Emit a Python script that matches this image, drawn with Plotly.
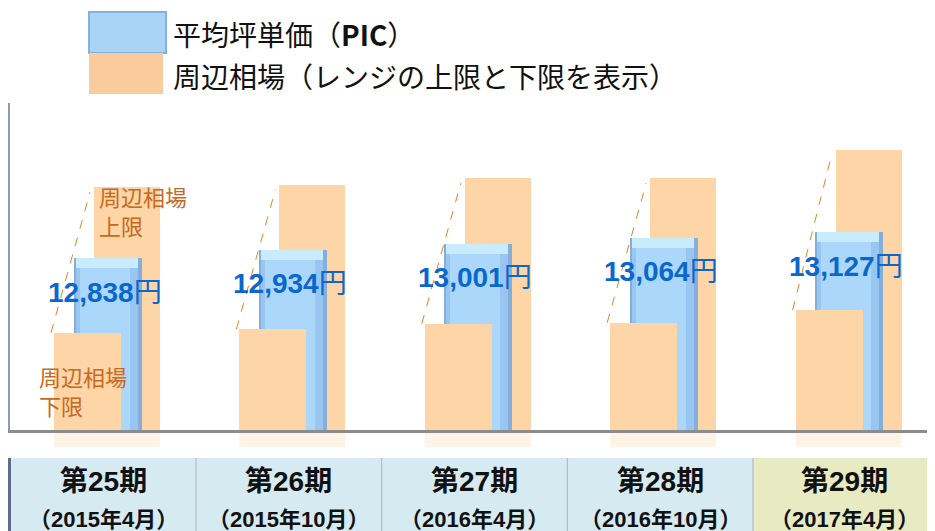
import plotly.graph_objects as go

# ---------------- data ----------------
periods = ["第25期", "第26期", "第27期", "第28期", "第29期"]
dates = ["（2015年4月）", "（2015年10月）", "（2016年4月）", "（2016年10月）", "（2017年4月）"]
pic_values = [12838, 12934, 13001, 13064, 13127]          # 平均坪単価 (PIC)
range_lower = [12020, 12060, 12120, 12130, 12270]          # 周辺相場 下限 (estimated)
range_upper = [13620, 13650, 13720, 13720, 14030]          # 周辺相場 上限 (estimated)
legend_labels = ["平均坪単価（<b>PIC</b>）", "周辺相場（レンジの上限と下限を表示）"]

# ---------------- layout constants (page pixels) ----------------
PAGE_OFF = 8                       # default body margin of the page
W, H = 935 - PAGE_OFF, 531 - PAGE_OFF
PL, PR, PT, PB = 10, 935, 103, 430  # plot area in page pixels
ML, MR, MT, MB = PL - PAGE_OFF, 0, PT - PAGE_OFF, 531 - PB
PLOT_W = PR - PL
PLOT_H = PB - PT
PX_X = 185.4            # pixels per category
X0_PX = 107.5           # page pixel of first category centre
XMIN = (PL - X0_PX) / PX_X
XMAX = (PR - X0_PX) / PX_X
YEN_PX = 11.0
YMIN = 10950
YMAX = YMIN + PLOT_H * YEN_PX

def dx(px):
    return px / PX_X

def dy(px):
    return px * YEN_PX

def paper_x(px):
    return (px - PL) / PLOT_W

def paper_y(py):
    return (PB - py) / PLOT_H

ORANGE = "#FDD5A6"
xs = list(range(len(periods)))

fig = go.Figure()

# upper range bar (behind)
fig.add_trace(go.Bar(x=xs, y=range_upper, width=dx(66), offset=dx(-13.5),
                     marker=dict(color=ORANGE, line=dict(width=0)), hoverinfo="skip"))
# PIC bar - outer (edge shade)
fig.add_trace(go.Bar(x=xs, y=pic_values, width=dx(68), offset=dx(-34),
                     marker=dict(color="#86AEDA", line=dict(width=0)), hoverinfo="skip"))
fig.add_trace(go.Bar(x=xs, y=pic_values, width=dx(62), offset=dx(-32),
                     marker=dict(color="#98C6F0", line=dict(width=0)), hoverinfo="skip"))
# PIC bar - inner light
fig.add_trace(go.Bar(x=xs, y=pic_values, width=dx(50), offset=dx(-28),
                     marker=dict(color="#AAD7FA", line=dict(width=0)), hoverinfo="skip"))
# PIC bar - top bevel
fig.add_trace(go.Bar(x=xs, y=[dy(10)] * len(xs), base=[v - dy(10) for v in pic_values],
                     width=dx(62), offset=dx(-32),
                     marker=dict(color="#C9ECFC", line=dict(width=0)), hoverinfo="skip"))
# lower range bar (front)
fig.add_trace(go.Bar(x=xs, y=range_lower, width=dx(67), offset=dx(-53.5),
                     marker=dict(color=ORANGE, line=dict(width=0)), hoverinfo="skip"))

shapes = []
annotations = []

# faint reflections below the baseline
for i in xs:
    for off, wid, col in [(-53.5, 67, ORANGE), (-34, 68, "#A9D4F7"), (-13.5, 66, ORANGE)]:
        pass
refl_spans = [(-53.5, 87, ORANGE)]
for i in xs:
    shapes.append(dict(type="rect", xref="x", yref="paper",
                       x0=i + dx(-53.5), x1=i + dx(52.5), y0=paper_y(447), y1=paper_y(433),
                       fillcolor="#FEF3E6", line=dict(width=0), layer="below"))

# dashed connectors lower -> upper
for i in xs:
    shapes.append(dict(type="line", xref="x", yref="y",
                       x0=i + dx(-53.5 - 3), y0=range_lower[i],
                       x1=i + dx(-13.5 - 4), y1=range_upper[i] - dy(5),
                       line=dict(color="#E0832E", width=1, dash="dash")))

# value labels
for i in xs:
    annotations.append(dict(x=i + dx(-3), y=pic_values[i], xref="x", yref="y",
                            yshift=-34, showarrow=False,
                            text=f"<b>{pic_values[i]:,}</b>円",
                            font=dict(family="Liberation Sans, Arial, Noto Sans CJK JP",
                                      size=28, color="#0A67CC"),
                            xanchor="center", yanchor="middle"))

LABEL_C = "#C7691F"
LABEL_F = dict(family="Noto Sans CJK JP", size=22, color=LABEL_C)
# upper label (first period)
annotations.append(dict(x=xs[0] + dx(-13.5 + 3), y=range_upper[0] + dy(9), xref="x", yref="y",
                        text="周辺相場<br>上限", showarrow=False, align="left",
                        xanchor="left", yanchor="top", font=LABEL_F))
# lower label (first period)
annotations.append(dict(x=xs[0] + dx(-53.5 - 17), y=range_lower[0] - dy(25), xref="x", yref="y",
                        text="周辺相場<br>下限", showarrow=False, align="left",
                        xanchor="left", yanchor="top", font=LABEL_F))

# legend (custom swatches)
shapes.append(dict(type="rect", xref="paper", yref="paper",
                   x0=paper_x(89), x1=paper_x(166), y0=paper_y(53), y1=paper_y(12),
                   fillcolor="#A9D4F7", line=dict(color="#86B1DC", width=2)))
shapes.append(dict(type="rect", xref="paper", yref="paper",
                   x0=paper_x(89), x1=paper_x(163), y0=paper_y(94), y1=paper_y(53),
                   fillcolor="#FACB9D", line=dict(width=0)))
annotations.append(dict(x=paper_x(171), y=paper_y(34), xref="paper", yref="paper",
                        text=legend_labels[0], showarrow=False, xanchor="left", yanchor="middle",
                        font=dict(family="Noto Sans CJK JP", size=28, color="#111111")))
annotations.append(dict(x=paper_x(171), y=paper_y(76), xref="paper", yref="paper",
                        text=legend_labels[1], showarrow=False, xanchor="left", yanchor="middle",
                        font=dict(family="Noto Sans CJK JP", size=28, color="#111111")))

# bottom table
col_edges = [10, 196, 381.7, 567.3, 753, 935]
cell_colors = ["#D6EAF2", "#D6EAF2", "#D6EAF2", "#D6EAF2", "#E8EAC2"]
for k in range(len(periods)):
    shapes.append(dict(type="rect", xref="paper", yref="paper",
                       x0=paper_x(col_edges[k]), x1=paper_x(col_edges[k + 1]),
                       y0=paper_y(545), y1=paper_y(458),
                       fillcolor=cell_colors[k], line=dict(width=0), layer="below"))
for k in range(1, len(periods)):
    shapes.append(dict(type="line", xref="paper", yref="paper",
                       x0=paper_x(col_edges[k]), x1=paper_x(col_edges[k]),
                       y0=paper_y(545), y1=paper_y(458),
                       line=dict(color="#A9B4BE", width=1)))
shapes.append(dict(type="line", xref="paper", yref="paper",
                   x0=paper_x(9.5), x1=paper_x(9.5), y0=paper_y(545), y1=paper_y(458),
                   line=dict(color="#5E6B8A", width=3)))
for k in range(len(periods)):
    cx = (col_edges[k] + col_edges[k + 1]) / 2
    annotations.append(dict(x=paper_x(cx), y=paper_y(481), xref="paper", yref="paper",
                            text=f"<b>{periods[k]}</b>", showarrow=False,
                            xanchor="center", yanchor="middle",
                            font=dict(family="Liberation Sans, Noto Sans CJK JP", size=28, color="#111111")))
    annotations.append(dict(x=paper_x(cx), y=paper_y(519), xref="paper", yref="paper",
                            text=f"<b>{dates[k]}</b>", showarrow=False,
                            xanchor="center", yanchor="middle",
                            font=dict(family="Liberation Sans, Noto Sans CJK JP", size=22, color="#111111")))

fig.update_layout(
    width=W, height=H, autosize=False,
    margin=dict(l=ML, r=MR, t=MT, b=MB, pad=0),
    paper_bgcolor="white", plot_bgcolor="white",
    barmode="overlay", bargap=0, showlegend=False,
    xaxis=dict(range=[XMIN, XMAX], showgrid=False, zeroline=False, showticklabels=False,
               ticks="", showline=True, linecolor="#8C8C8C", linewidth=3, fixedrange=True),
    yaxis=dict(range=[YMIN, YMAX], showgrid=False, zeroline=False, showticklabels=False,
               ticks="", showline=True, linecolor="#8C9AB5", linewidth=3, fixedrange=True),
    shapes=shapes, annotations=annotations,
)

fig.write_html("out.html")
